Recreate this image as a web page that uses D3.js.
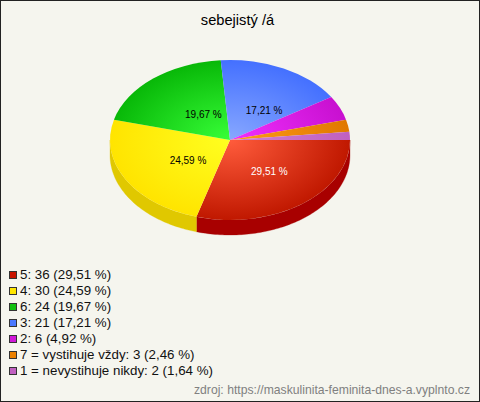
<!DOCTYPE html>
<html><head><meta charset="utf-8">
<script src="https://cdnjs.cloudflare.com/ajax/libs/d3/7.8.5/d3.min.js"></script>
<style>html,body{margin:0;padding:0;background:#f5f5ee}svg{display:block}text{font-family:"Liberation Sans",Arial,sans-serif}</style>
</head><body><svg id="c" width="480" height="402"></svg>
<script>
const titleText = "sebejistý /á";
const sourceText = "zdroj: https://maskulinita-feminita-dnes-a.vyplnto.cz";
const categories = ["5","4","6","3","2","7 = vystihuje vždy","1 = nevystihuje nikdy"];
const values = [36,30,24,21,6,3,2];
const percents = ["29,51","24,59","19,67","17,21","4,92","2,46","1,64"];
const labelShown = [true,true,true,true,false,false,false];
const labelColors = ["#fff","#000","#000","#000","#000","#000","#000"];
const legendColors = ["#c81400","#ffe600","#10c010","#4a78ff","#d018d8","#ec8000","#c060c0"];
const innerColors = ["#ff5c3c","#ffff20","#38ff38","#88a8ff","#f030ff","#ff9c18","#d080d0"];
const outerColors = ["#c01800","#ffe400","#08b808","#4470ff","#c810d0","#e07800","#c060c0"];
const sideColors = ["#a80000","#e0c800","#0a900a","#2850c0","#a010a0","#b06000","#904890"];

const cx=230, cy=140, rx=120, ry=80, depth=15;
const svg=d3.select("#c");
svg.append("rect").attr("x",0.5).attr("y",0.5).attr("width",479).attr("height",401)
  .attr("fill","#f5f5ee").attr("stroke","#222");
svg.append("text").attr("x",237.5).attr("y",25).attr("text-anchor","middle")
  .attr("font-size",14.67).attr("fill","#000").text(titleText);

const pie=d3.pie().sort(null).startAngle(Math.PI/2).endAngle(Math.PI*2.5);
const arcs=pie(values);
const defs=svg.append("defs");
arcs.forEach((d,i)=>{
  const g=defs.append("radialGradient").attr("id","g"+i).attr("gradientUnits","userSpaceOnUse")
    .attr("cx",0).attr("cy",0).attr("r",rx);
  g.append("stop").attr("offset","0%").attr("stop-color",innerColors[i]);
  g.append("stop").attr("offset","100%").attr("stop-color",outerColors[i]);
});
// side wall, only the front half of the ellipse
const sx=a=>cx+rx*Math.sin(a), sy=a=>cy-ry*Math.cos(a);
const area=d3.area().x(sx).y0(sy).y1(a=>sy(a)+depth);
arcs.forEach((d,i)=>{
  const lo=Math.max(d.startAngle,Math.PI/2), hi=Math.min(d.endAngle,Math.PI*1.5);
  if(hi<=lo) return;
  const n=Math.ceil((hi-lo)/0.02);
  const samples=d3.range(n+1).map(k=>lo+(hi-lo)*k/n);
  svg.append("path").attr("d",area(samples)).attr("fill",sideColors[i]).attr("stroke",sideColors[i]).attr("stroke-width",0.3);
});
const topFace=svg.append("g").attr("transform",`translate(${cx},${cy}) scale(1,${ry/rx})`);
const arc=d3.arc().innerRadius(0).outerRadius(rx);
topFace.selectAll("path").data(arcs).join("path").attr("d",arc).attr("fill",(d,i)=>`url(#g${i})`);

// percentage labels, with small horizontal adjustments
const lr=0.45, nudge=[0,-2,1,3];
arcs.forEach((d,i)=>{
  if(!labelShown[i]) return;
  const m=(d.startAngle+d.endAngle)/2;
  svg.append("text").attr("x",cx+rx*lr*Math.sin(m)+7+nudge[i]).attr("y",cy-ry*lr*Math.cos(m)+6)
    .attr("text-anchor","middle").attr("font-size",10).attr("fill",labelColors[i])
    .text(percents[i]+" %");
});

// legend
const ly=d3.scalePoint().domain(d3.range(categories.length)).range([274,370]);
categories.forEach((c,i)=>{
  svg.append("rect").attr("x",9.5).attr("y",ly(i)-2.5).attr("width",7).attr("height",7)
    .attr("fill",legendColors[i]).attr("stroke","#333");
  svg.append("text").attr("x",20).attr("y",ly(i)+5).attr("font-size",13.33).attr("fill","#111")
    .text(`${c}: ${values[i]} (${percents[i]} %)`);
});
svg.append("text").attr("x",470).attr("y",394).attr("text-anchor","end").attr("font-size",12.18)
  .attr("fill","#808080").text(sourceText);
</script></body></html>
